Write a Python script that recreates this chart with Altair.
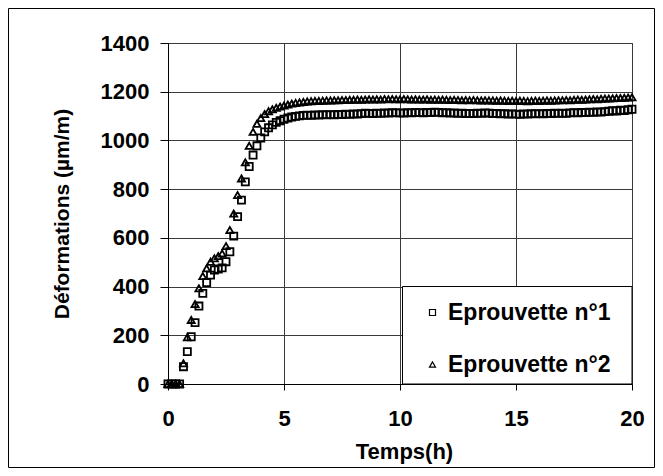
import altair as alt
import pandas as pd

# ---- data ----
series_names = ["Eprouvette n°1", "Eprouvette n°2"]

# sampling instants, in minutes (one reading every 10 minutes, 0 h -> 20 h)
temps_min = [
    0, 10, 20, 30, 40, 50, 60, 70, 80, 90, 100, 110,
    120, 130, 140, 150, 160, 170, 180, 190, 200, 210, 220, 230,
    240, 250, 260, 270, 280, 290, 300, 310, 320, 330, 340, 350,
    360, 370, 380, 390, 400, 410, 420, 430, 440, 450, 460, 470,
    480, 490, 500, 510, 520, 530, 540, 550, 560, 570, 580, 590,
    600, 610, 620, 630, 640, 650, 660, 670, 680, 690, 700, 710,
    720, 730, 740, 750, 760, 770, 780, 790, 800, 810, 820, 830,
    840, 850, 860, 870, 880, 890, 900, 910, 920, 930, 940, 950,
    960, 970, 980, 990, 1000, 1010, 1020, 1030, 1040, 1050, 1060, 1070,
    1080, 1090, 1100, 1110, 1120, 1130, 1140, 1150, 1160, 1170, 1180, 1190,
    1200,
]

eprouvette_1 = [
    0, 0, 0, 0, 71, 133,
    194, 252, 320, 372, 416, 447,
    468, 472, 477, 502, 543, 607,
    687, 755, 830, 893, 940, 978,
    1010, 1035, 1052, 1064, 1074, 1081,
    1087, 1092, 1096, 1099, 1101, 1103,
    1104, 1103, 1105, 1104, 1106, 1105,
    1106, 1105, 1107, 1106, 1108, 1107,
    1109, 1108, 1110, 1112, 1111, 1110,
    1112, 1111, 1113, 1112, 1114, 1113,
    1113, 1112, 1114, 1113, 1115, 1114,
    1113, 1115, 1114, 1116, 1115, 1113,
    1114, 1112, 1113, 1111, 1112, 1110,
    1111, 1110, 1112, 1111, 1113, 1112,
    1110, 1111, 1109, 1110, 1108, 1109,
    1108, 1107, 1109, 1108, 1110, 1109,
    1110, 1109, 1111, 1110, 1112, 1111,
    1112, 1111, 1113, 1114, 1113, 1115,
    1114, 1116, 1115, 1117, 1116, 1118,
    1120, 1122, 1121, 1124, 1123, 1126,
    1128,
]

eprouvette_2 = [
    0, 0, 0, 0, 85, 192,
    263, 328, 393, 443, 475, 502,
    516, 525, 536, 566, 632, 700,
    776, 844, 910, 978, 1035, 1068,
    1092, 1108, 1120, 1128, 1134, 1139,
    1143, 1147, 1151, 1154, 1156, 1158,
    1160, 1161, 1162, 1162, 1163, 1164,
    1164, 1165, 1165, 1166, 1166, 1167,
    1167, 1168, 1167, 1168, 1169, 1168,
    1169, 1168, 1170, 1169, 1170, 1169,
    1169, 1170, 1169, 1168, 1169, 1168,
    1168, 1169, 1167, 1168, 1167, 1168,
    1167, 1166, 1167, 1166, 1165, 1166,
    1165, 1166, 1165, 1164, 1165, 1164,
    1164, 1163, 1164, 1163, 1162, 1163,
    1162, 1163, 1162, 1161, 1162, 1163,
    1162, 1163, 1164, 1163, 1164, 1165,
    1165, 1166, 1165, 1167, 1168, 1167,
    1168, 1169, 1170, 1169, 1171, 1172,
    1172, 1173, 1174, 1174, 1175, 1176,
    1177,
]

x_ticks = [0, 5, 10, 15, 20]
y_ticks = [0, 200, 400, 600, 800, 1000, 1200, 1400]

rows = []
for name, vals in zip(series_names, [eprouvette_1, eprouvette_2]):
    for m, v in zip(temps_min, vals):
        rows.append({"t": m / 60.0, "v": v, "serie": name})
df = pd.DataFrame(rows)

FONT = "Liberation Sans"
W, H = 464, 341
GRID = "#3a3a3a"

one = pd.DataFrame({"a": [0]})

outer_frame = alt.Chart(one).mark_rect(fill="white", fillOpacity=0, stroke="black", strokeWidth=1).encode(
    x=alt.value(-159.5), x2=alt.value(W + 22.5), y=alt.value(-34.5), y2=alt.value(H + 83.5)
)

legend_frame = alt.Chart(one).mark_rect(fill="white", stroke="black", strokeWidth=1).encode(
    x=alt.value(234.5), x2=alt.value(W), y=alt.value(243.5), y2=alt.value(H)
)

points = alt.Chart(df).mark_point(
    filled=False, color="black", strokeWidth=1.8, size=50, opacity=1
).encode(
    x=alt.X(
        "t:Q",
        scale=alt.Scale(domain=[0, 20], nice=False, zero=False),
        axis=alt.Axis(
            values=x_ticks, title="Temps(h)", grid=True, gridColor=GRID, gridWidth=1,
            domainColor="black", tickColor="black", tickSize=6, labelPadding=18,
            format="d",
            labelFont=FONT, labelFontSize=22, labelFontWeight="bold", labelColor="black",
            titleFont=FONT, titleFontSize=22, titleFontWeight="bold", titleColor="black",
            titleX=236, titleY=67, titleAlign="center", titleBaseline="middle",
            labelFlush=False, labelOverlap=False,
        ),
    ),
    y=alt.Y(
        "v:Q",
        scale=alt.Scale(domain=[0, 1400], nice=False),
        axis=alt.Axis(
            values=y_ticks, title="Déformations (µm/m)", grid=True, gridColor=GRID, gridWidth=1,
            domainColor="black", tickColor="black", tickSize=8, labelPadding=11,
            format="d",
            labelFont=FONT, labelFontSize=22, labelFontWeight="bold", labelColor="black",
            titleFont=FONT, titleFontSize=21, titleFontWeight="bold", titleColor="black",
            titleX=-106, titleY=170.5, titleAngle=270, titleAlign="center", titleBaseline="middle",
            labelFlush=False, labelOverlap=False,
        ),
    ),
    shape=alt.Shape(
        "serie:N",
        scale=alt.Scale(domain=series_names, range=["square", "triangle-up"]),
        legend=alt.Legend(
            title=None, orient="none", legendX=253, legendY=258, padding=0,
            rowPadding=28, symbolSize=36, symbolStrokeWidth=1.2, symbolStrokeColor="black",
            symbolFillColor="white", labelOffset=4,
            labelFont=FONT, labelFontSize=23, labelFontWeight="bold", labelColor="black",
            labelLimit=400,
        ),
    ),
)

chart = alt.layer(outer_frame, legend_frame, points).properties(
    width=W, height=H,
    autosize=alt.AutoSizeParams(type="none"),
    padding={"left": 160, "top": 35, "right": 23, "bottom": 84},
    background="white",
).configure_view(stroke=GRID, strokeWidth=1)

chart.save("out.html", embed_options={"renderer": "svg", "actions": False})
